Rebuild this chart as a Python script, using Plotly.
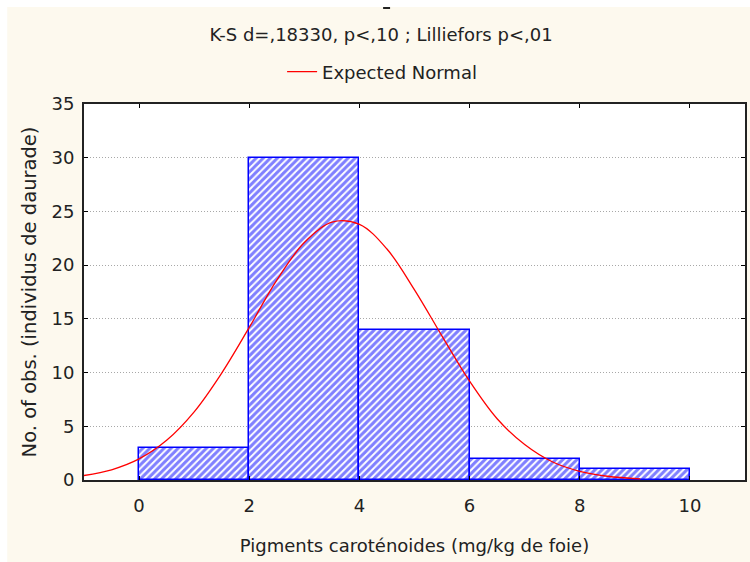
import plotly.graph_objects as go

# ---- data ----
bin_left = [0, 2, 4, 6, 8]
bin_width = [2, 2, 2, 2, 2]
counts = [3, 30, 14, 2, 1]

curve_x = [-1, -0.5, 0, 0.5, 1, 1.5, 2, 2.5, 3, 3.5, 4, 4.5, 5, 5.5, 6, 6.5, 7, 7.5, 8, 8.5, 9.1]
curve_y = [0.42, 0.95, 1.96, 3.69, 6.34, 9.95, 14.2, 18.6, 22.1, 24.0, 23.8, 21.5, 17.7, 13.4,
           9.2, 5.7, 3.3, 1.7, 0.81, 0.35, 0.11]

x_ticks = [0, 2, 4, 6, 8, 10]
y_ticks = [0, 5, 10, 15, 20, 25, 30, 35]

title_text = "K-S d=,18330, p<,10 ; Lilliefors p<,01"
x_title = "Pigments caroténoides (mg/kg de foie)"
y_title = "No. of obs. (individus de daurade)"

FONT = "DejaVu Sans, Verdana, sans-serif"
CREAM = "#FDF9EE"
TXT = "#222222"

fig = go.Figure()
fig.add_trace(go.Bar(
    x=bin_left, y=counts, width=bin_width, offset=0,
    marker=dict(color="white",
                line=dict(color="#0000FF", width=1.5),
                pattern=dict(shape="/", fgcolor="#0000FF", bgcolor="white",
                             size=5, solidity=0.6)),
    showlegend=False, hoverinfo="skip",
))
fig.add_trace(go.Scatter(
    x=curve_x, y=curve_y, mode="lines", name="Expected Normal",
    line=dict(color="#FF0000", width=1.3, shape="spline"),
))

W, H = 750, 562
L, R, T, B = 84, 3, 104, 82
pw, ph = W - L - R, H - T - B

def px2x(p):
    return (p - L) / pw

def py2y(p):
    return (H - B - p) / ph

fig.update_layout(
    width=W, height=H,
    margin=dict(l=L, r=R, t=T, b=B),
    paper_bgcolor=CREAM,
    plot_bgcolor="white",
    font=dict(family=FONT, size=18, color=TXT),
    bargap=0,
    title=dict(text=title_text, x=381 / W, xref="container", xanchor="center",
               y=1 - 35 / H, yref="container", yanchor="middle",
               font=dict(family=FONT, size=18, color=TXT)),
    legend=dict(orientation="h", x=px2x(383), xanchor="center", y=py2y(72), yanchor="middle",
                bgcolor="rgba(0,0,0,0)", font=dict(size=18, color=TXT)),
    xaxis=dict(range=[-1, 11], tickvals=x_ticks, ticks="inside", ticklen=4,
               tickcolor="black", showline=True, linecolor="#222", linewidth=2,
               mirror="ticks", showgrid=False, zeroline=False,
               ticklabelstandoff=8,
               tickfont=dict(size=18, color=TXT),
               title=dict(text=x_title, standoff=25, font=dict(size=18, color=TXT))),
    yaxis=dict(range=[0, 35], tickvals=y_ticks, ticks="inside", ticklen=4,
               tickcolor="black", showline=True, linecolor="#222", linewidth=2,
               mirror="ticks", showgrid=True, gridcolor="#A8A8A8", griddash="1px,2px",
               gridwidth=1, zeroline=False,
               ticklabelstandoff=4,
               tickfont=dict(size=18, color=TXT),
               title=dict(text=y_title, standoff=10, font=dict(size=19.5, color=TXT))),
    shapes=[
        dict(type="rect", xref="paper", yref="paper", layer="below",
             x0=px2x(-5), x1=px2x(W + 5), y0=py2y(7), y1=py2y(-5),
             fillcolor="white", line=dict(width=0)),
        dict(type="rect", xref="paper", yref="paper", layer="below",
             x0=px2x(-5), x1=px2x(7), y0=py2y(H + 5), y1=py2y(-5),
             fillcolor="white", line=dict(width=0)),
        dict(type="line", xref="paper", yref="paper",
             x0=px2x(384), x1=px2x(391), y0=py2y(8), y1=py2y(8),
             line=dict(color="#222", width=2)),
    ],
)

fig.write_html("out.html")
